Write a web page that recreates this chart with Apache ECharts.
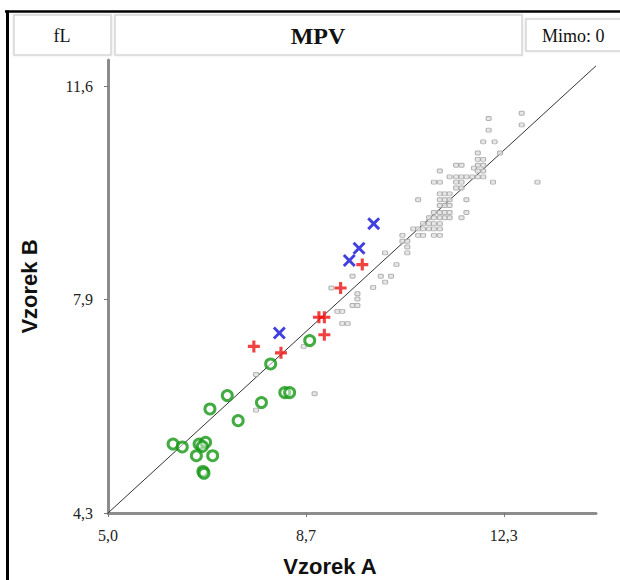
<!DOCTYPE html>
<html>
<head>
<meta charset="utf-8">
<script src="https://cdn.jsdelivr.net/npm/echarts@6/dist/echarts.min.js"></script>
<style>
  html, body { margin: 0; padding: 0; background: #fff; }
  #mpv { width: 620px; height: 580px; }
</style>
</head>
<body>
<div id="mpv"></div>
<script>
// tick positions and their printed labels (comma decimals)
var xTicks = [5.0, 8.65, 12.3];
var xTickLabels = ['5,0', '8,7', '12,3'];
var yTicks = [4.3, 7.95, 11.6];
var yTickLabels = ['4,3', '7,9', '11,6'];

// reference line
var refLine = [[5.0, 4.3], [14.0, 11.95]];

// Vzorek A, Vzorek B
var greyPoints = [
  [12.63, 11.14], [12.02, 11.05], [12.63, 10.94], [12.02, 10.85],
  [11.92, 10.65], [12.13, 10.65],
  [11.82, 10.46], [12.23, 10.46],
  [11.82, 10.35], [11.92, 10.35],
  [11.42, 10.25], [11.52, 10.25], [11.82, 10.25], [11.92, 10.25],
  [11.75, 10.20],
  [11.12, 10.15], [11.82, 10.15], [11.92, 10.15],
  [11.30, 10.05], [11.42, 10.05], [11.52, 10.05], [11.61, 10.05], [11.72, 10.05], [11.82, 10.05], [11.92, 10.05],
  [11.01, 9.96], [11.12, 9.96], [11.42, 9.96], [11.52, 9.96], [12.10, 9.96], [12.92, 9.96],
  [11.42, 9.86], [11.52, 9.86],
  [11.12, 9.76], [11.21, 9.76], [11.30, 9.76],
  [10.72, 9.66], [11.12, 9.66], [11.21, 9.66], [11.30, 9.66], [11.61, 9.66],
  [11.12, 9.56], [11.21, 9.56], [11.30, 9.56],
  [11.01, 9.44], [11.12, 9.44], [11.21, 9.44], [11.30, 9.44], [11.61, 9.44],
  [10.92, 9.35], [11.01, 9.35], [11.12, 9.35], [11.21, 9.35], [11.30, 9.35], [11.52, 9.35],
  [10.81, 9.25], [10.92, 9.25], [11.01, 9.25], [11.12, 9.25],
  [10.63, 9.16], [10.72, 9.16], [10.81, 9.16], [10.92, 9.16], [11.01, 9.16], [11.12, 9.16],
  [10.43, 9.05], [10.72, 9.05], [10.81, 9.05], [11.01, 9.05], [11.12, 9.05],
  [10.43, 8.95], [10.52, 8.95],
  [10.52, 8.85],
  [10.11, 8.75], [10.52, 8.75],
  [10.32, 8.55],
  [9.51, 8.35], [10.03, 8.35], [10.22, 8.35],
  [10.11, 8.25],
  [9.89, 8.16], [9.12, 8.15],
  [9.60, 8.05], [9.60, 7.96],
  [9.51, 7.85], [9.60, 7.85],
  [9.23, 7.75], [9.32, 7.75],
  [9.32, 7.54], [9.42, 7.54],
  [8.61, 7.15],
  [7.73, 6.67], [8.81, 6.34], [7.73, 6.06]
];
var greenPoints = [
  [8.72, 7.25], [8.00, 6.85], [7.20, 6.31], [6.88, 6.08], [7.83, 6.19],
  [8.26, 6.36], [8.35, 6.36], [7.40, 5.88],
  [6.20, 5.48], [6.37, 5.43], [6.68, 5.48], [6.80, 5.51], [6.74, 5.44],
  [6.63, 5.28], [6.93, 5.28], [6.75, 5.01], [6.77, 4.98]
];
var redPoints = [
  [7.69, 7.15], [8.19, 7.04], [8.89, 7.65], [8.99, 7.65],
  [8.99, 7.35], [9.29, 8.15], [9.69, 8.55]
];
var bluePoints = [
  [8.16, 7.38], [9.45, 8.62], [9.63, 8.83], [9.90, 9.25]
];

var plusPath = 'path://M3.7,0H6.3V3.7H10V6.3H6.3V10H3.7V6.3H0V3.7H3.7Z';
var crossPath = 'path://M0,1.6L1.6,0L5,3.4L8.4,0L10,1.6L6.6,5L10,8.4L8.4,10L5,6.6L1.6,10L0,8.4L3.4,5Z';

function tickFormatter(ticks, labels) {
  return function (v) {
    for (var i = 0; i < ticks.length; i++) {
      if (Math.abs(ticks[i] - v) < 1e-6) return labels[i];
    }
    return '';
  };
}

var boxStyle = { fill: '#fff', stroke: '#d6d6d6', lineWidth: 1.5, shadowBlur: 2, shadowColor: 'rgba(0,0,0,0.12)' };

var chart = echarts.init(document.getElementById('mpv'), null, { renderer: 'svg' });

var option = {
  animation: false,
  backgroundColor: '#fff',
  grid: { left: 108, right: 24, top: 60, bottom: 67, outerBoundsMode: 'none' },
  xAxis: {
    type: 'value',
    min: 5.0,
    max: 14.0,
    splitLine: { show: false },
    axisLine: { lineStyle: { color: '#8c8c8c', width: 3 } },
    axisTick: { customValues: xTicks, length: 4, lineStyle: { color: '#777', width: 1 } },
    axisLabel: {
      customValues: xTicks,
      formatter: tickFormatter(xTicks, xTickLabels),
      margin: 14,
      fontFamily: 'Liberation Serif',
      fontSize: 16,
      color: '#222'
    }
  },
  yAxis: {
    type: 'value',
    min: 4.3,
    max: 12.05,
    name: 'Vzorek B',
    nameLocation: 'middle',
    nameGap: 68,
    nameTextStyle: { fontFamily: 'Liberation Sans', fontWeight: 'bold', fontSize: 22, color: '#111' },
    splitLine: { show: false },
    axisLine: { show: true, lineStyle: { color: '#8c8c8c', width: 3 } },
    axisTick: { show: true, customValues: yTicks, length: 4, lineStyle: { color: '#777', width: 1 } },
    axisLabel: {
      customValues: yTicks,
      formatter: tickFormatter(yTicks, yTickLabels),
      margin: 15,
      fontFamily: 'Liberation Serif',
      fontSize: 16,
      color: '#222'
    }
  },
  graphic: [
    { type: 'line', shape: { x1: 5, y1: 11.5, x2: 620, y2: 11.5 }, style: { stroke: '#000', lineWidth: 2.5 } },
    { type: 'line', shape: { x1: 7.5, y1: 10.5, x2: 7.5, y2: 580 }, style: { stroke: '#000', lineWidth: 3 } },
    { type: 'rect', shape: { x: 14, y: 15, width: 97, height: 40 }, style: boxStyle },
    { type: 'rect', shape: { x: 115, y: 15, width: 407, height: 40 }, style: boxStyle },
    { type: 'rect', shape: { x: 526, y: 19, width: 120, height: 32 }, style: boxStyle },
    { type: 'text', x: 62, y: 36,
      style: { text: 'fL', align: 'center', verticalAlign: 'middle', font: '18px "Liberation Serif"', fill: '#111' } },
    { type: 'text', x: 318, y: 36,
      style: { text: 'MPV', align: 'center', verticalAlign: 'middle', font: 'bold 24px "Liberation Serif"', fill: '#111' } },
    { type: 'text', x: 542, y: 36,
      style: { text: 'Mimo: 0', align: 'left', verticalAlign: 'middle', font: '18px "Liberation Serif"', fill: '#111' } },
    { type: 'text', x: 330, y: 566,
      style: { text: 'Vzorek A', align: 'center', verticalAlign: 'middle', font: 'bold 22px "Liberation Sans"', fill: '#111' } }
  ],
  series: [
    {
      type: 'line',
      data: refLine,
      symbol: 'none',
      lineStyle: { color: '#333', width: 1 },
      z: 1
    },
    {
      type: 'scatter',
      data: greyPoints,
      symbol: 'roundRect',
      symbolSize: [5, 4],
      itemStyle: { color: '#e0e0e0', borderColor: '#a0a0a0', borderWidth: 1 },
      z: 2
    },
    {
      type: 'scatter',
      data: greenPoints,
      symbol: 'circle',
      symbolSize: 10,
      itemStyle: { color: 'rgba(255,255,255,0.6)', borderColor: '#139613', borderWidth: 3 },
      z: 3
    },
    {
      type: 'scatter',
      data: redPoints,
      symbol: plusPath,
      symbolSize: 12,
      itemStyle: { color: '#ee1111' },
      z: 4
    },
    {
      type: 'scatter',
      data: bluePoints,
      symbol: crossPath,
      symbolSize: 13,
      itemStyle: { color: '#1010d8' },
      z: 5
    }
  ]
};

chart.setOption(option);
</script>
</body>
</html>
